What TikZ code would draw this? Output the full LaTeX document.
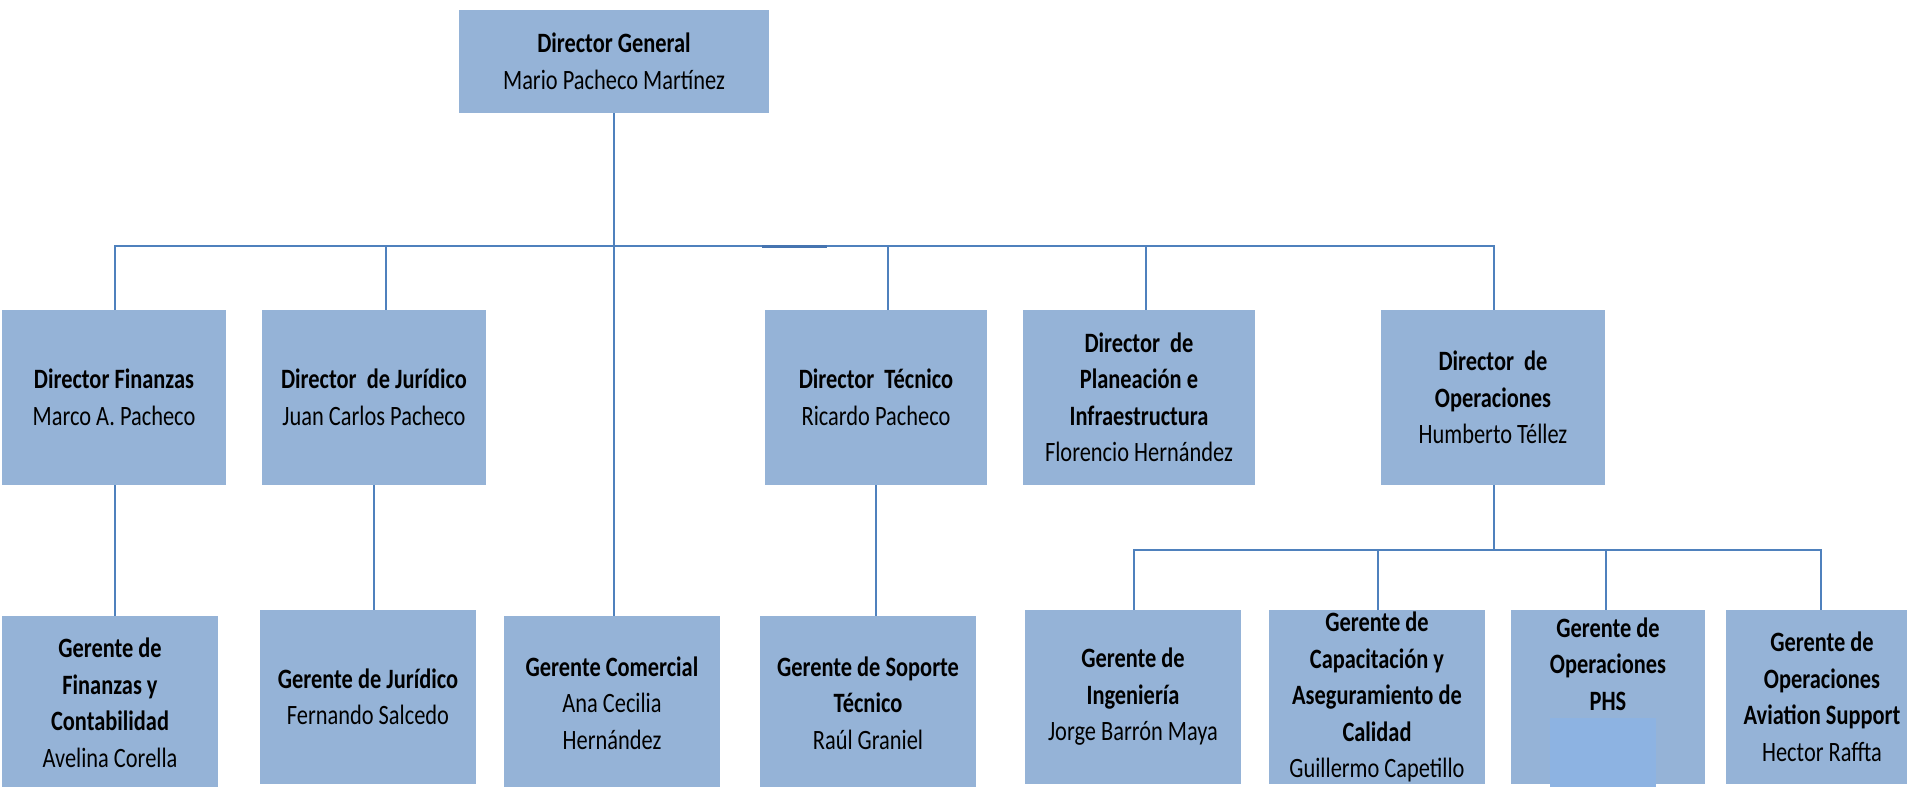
\documentclass[tikz,border=0pt]{standalone}
\usepackage{fontspec}
\setmainfont{Carlito}[FakeStretch=0.8]
\definecolor{boxfill}{RGB}{149,179,215}
\definecolor{linec}{RGB}{79,129,189}
\definecolor{linedark}{RGB}{70,116,176}
\definecolor{maskc}{RGB}{141,179,226}
\begin{document}
\begin{tikzpicture}[x=1pt,y=-1pt,
  box/.style={fill=boxfill, inner sep=0pt, align=center,
    font=\fontsize{28}{36.5}\selectfont},
  conn/.style={draw=linec, line width=2pt}]
\useasboundingbox (0,0) rectangle (1907,787);
\clip (0,0) rectangle (1907,787);
% level 1
\node[box, minimum width=310pt, minimum height=103pt] (dg) at (614,61.5)
  {\textbf{Director General}\\Mario Pacheco Martínez};
% level 2
\node[box, minimum width=224pt, minimum height=175pt] (fin) at (114,397.5)
  {\textbf{Director Finanzas}\\Marco A. Pacheco};
\node[box, minimum width=224pt, minimum height=175pt] (jur) at (374,397.5)
  {\textbf{Director\ \ de Jurídico}\\Juan Carlos Pacheco};
\node[box, minimum width=222pt, minimum height=175pt] (tec) at (876,397.5)
  {\textbf{Director\ \ Técnico}\\Ricardo Pacheco};
\node[box, minimum width=232pt, minimum height=175pt] (pla) at (1139,397.5)
  {\textbf{Director\ \ de}\\\textbf{Planeación e}\\\textbf{Infraestructura}\\Florencio Hernández};
\node[box, minimum width=224pt, minimum height=175pt] (ope) at (1493,397.5)
  {\textbf{Director\ \ de}\\\textbf{Operaciones}\\Humberto Téllez};
% level 3
\node[box, minimum width=216pt, minimum height=174pt] (gfin) at (110,703)
  {\textbf{Gerente de}\\\textbf{Finanzas y}\\\textbf{Contabilidad}\\Avelina Corella};
\node[box, minimum width=216pt, minimum height=174pt] (gjur) at (368,697)
  {\textbf{Gerente de Jurídico}\\Fernando Salcedo};
\node[box, minimum width=216pt, minimum height=174pt] (gcom) at (612,703)
  {\textbf{Gerente Comercial}\\Ana Cecilia\\Hernández};
\node[box, minimum width=216pt, minimum height=174pt] (gsop) at (868,703)
  {\textbf{Gerente de Soporte}\\\textbf{Técnico}\\Raúl Graniel};
\node[box, minimum width=216pt, minimum height=174pt] (ging) at (1133,697)
  {\textbf{Gerente de}\\\textbf{Ingeniería}\\Jorge Barrón Maya};
\node[box, minimum width=216pt, minimum height=174pt] (gcap) at (1377,697)
  {\textbf{Gerente de}\\\textbf{Capacitación y}\\\textbf{Aseguramiento de}\\\textbf{Calidad}\\Guillermo Capetillo};
\node[box, minimum width=194pt, minimum height=174pt] (gphs) at (1608,697)
  {\textbf{Gerente de}\\\textbf{Operaciones}\\\textbf{PHS}\\\rule[-30pt]{0pt}{20pt}};
\node[box, minimum width=192pt, minimum height=174pt] (gavi) at (1822,697)
  {\textbf{Gerente de}\\\textbf{Operaciones}\\\textbf{Aviation Support}\\Hector Raffta};
% patch over PHS box
\node[fill=maskc, inner sep=0pt, minimum width=106pt, minimum height=72pt] (mask) at (1603,754) {};
% connectors
\coordinate (busL) at (115,246);
\coordinate (busR) at (1494,246);
\coordinate (bJ) at (385.5,246);
\coordinate (bT) at (888,246);
\coordinate (bP) at (1146,246);
\coordinate (s1) at (762,246);
\coordinate (s2) at (827,246);
\draw[conn] (fin.north -| busL) -- (busL) -- (busR) -- (ope.north -| busR);
\draw[line width=3pt, draw=linedark] (s1) -- (s2);
\draw[conn] (dg.south) -- (dg.south |- gcom.north);
\draw[conn] (bJ) -- (jur.north -| bJ);
\draw[conn] (bT) -- (tec.north -| bT);
\draw[conn] (bP) -- (pla.north -| bP);
\draw[conn] (fin.south -| busL) -- (gfin.north -| busL);
\draw[conn] (jur.south) -- (jur.south |- gjur.north);
\draw[conn] (tec.south) -- (tec.south |- gsop.north);
\coordinate (b2M) at (1494,549.5);
\coordinate (b2L) at (1134,549.5);
\coordinate (b2C) at (1378,549.5);
\coordinate (b2P) at (1606,549.5);
\coordinate (b2R) at (1821,549.5);
\draw[conn] (ope.south -| b2M) -- (b2M);
\draw[conn] (ging.north -| b2L) -- (b2L) -- (b2R) -- (gavi.north -| b2R);
\draw[conn] (b2C) -- (gcap.north -| b2C);
\draw[conn] (b2P) -- (gphs.north -| b2P);
\end{tikzpicture}
\end{document}
